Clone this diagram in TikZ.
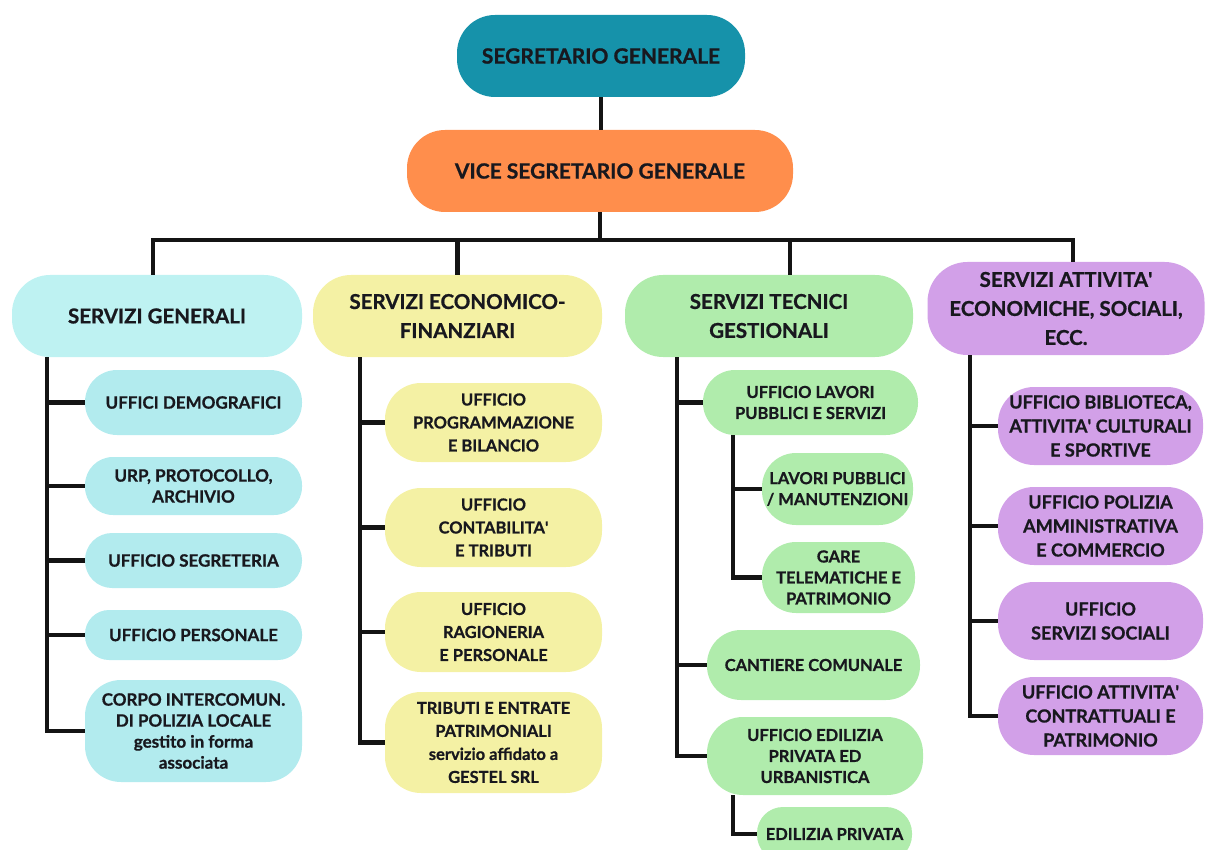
\documentclass[tikz,border=0pt]{standalone}
\usepackage{fontspec}
\setmainfont{Lato}[BoldFeatures={FakeBold=0.8}]
\usetikzlibrary{positioning}
\definecolor{segcolor}{RGB}{22,146,170}
\definecolor{vicecolor}{RGB}{255,142,76}
\definecolor{gencolor}{RGB}{190,242,242}
\definecolor{gensub}{RGB}{178,235,238}
\definecolor{ecocolor}{RGB}{244,241,164}
\definecolor{tecocolor}{RGB}{176,236,172}
\definecolor{attcolor}{RGB}{210,160,232}
\definecolor{txtcolor}{RGB}{24,24,30}
\newcommand{\ap}{\textquotesingle}
\tikzset{
    sz/.style n args={3}{minimum width=#1pt, minimum height=#2pt, rounded corners=#3pt},
    unitbox/.style={rectangle, align=center, inner sep=0pt, text=txtcolor},
    top box/.style={unitbox, font=\fontsize{21}{25}\selectfont\bfseries},
    head box/.style={unitbox, font=\fontsize{20.5}{29}\selectfont\bfseries},
    gen box/.style={unitbox, fill=gensub, font=\fontsize{17}{21}\selectfont\bfseries},
    eco box/.style={unitbox, fill=ecocolor, font=\fontsize{16.5}{23}\selectfont\bfseries},
    tec box/.style={unitbox, fill=tecocolor, font=\fontsize{16.5}{21}\selectfont\bfseries},
    att box/.style={unitbox, fill=attcolor, font=\fontsize{18}{24}\selectfont\bfseries},
    link/.style={line width=4.5pt, black!92}
}

\begin{document}
\begin{tikzpicture}[x=1pt, y=-1pt]
    \useasboundingbox (0,0) rectangle (1205,850);
    \clip (0,0) rectangle (1205,850);

    % Vertici
    \node[top box, fill=segcolor, sz={288}{82}{38}] (seg) at (601,56) {SEGRETARIO GENERALE};
    \node[top box, fill=vicecolor, sz={386}{82}{38}] (vice) at (600,171) {VICE SEGRETARIO GENERALE};

    % Servizi
    \node[head box, fill=gencolor, sz={290}{82}{38}] (gen) at (157,316) {SERVIZI GENERALI};
    \node[head box, fill=ecocolor, sz={289}{82}{38}] (eco) at (457.5,316) {SERVIZI ECONOMICO-\\FINANZIARI};
    \node[head box, fill=tecocolor, sz={288}{82}{38}] (tec) at (769,316) {SERVIZI TECNICI\\GESTIONALI};
    \node[head box, fill=attcolor, sz={277}{93}{40}] (att) at (1066,308.5) {SERVIZI ATTIVITA\ap\\ECONOMICHE, SOCIALI,\\ECC.};

    % Servizi generali
    \node[gen box, sz={217}{65}{32}] (g1) at (193.5,402.5) {UFFICI DEMOGRAFICI};
    \node[gen box, sz={217}{58}{28}] (g2) at (193.5,486) {URP, PROTOCOLLO,\\ARCHIVIO};
    \node[gen box, sz={217}{55}{27}] (g3) at (193.5,560.5) {UFFICIO SEGRETERIA};
    \node[gen box, sz={217}{50}{24}] (g4) at (193.5,635) {UFFICIO PERSONALE};
    \node[gen box, sz={217}{102}{36}] (g5) at (193.5,731) {CORPO INTERCOMUN.\\DI POLIZIA LOCALE\\gestito in forma\\associata};

    % Servizi economico-finanziari
    \node[eco box, sz={217}{79}{36}] (e1) at (493.5,422.5) {UFFICIO\\PROGRAMMAZIONE\\E BILANCIO};
    \node[eco box, sz={217}{79}{36}] (e2) at (493.5,527.5) {UFFICIO\\CONTABILITA\ap\\E TRIBUTI};
    \node[eco box, sz={217}{80}{36}] (e3) at (493.5,632) {UFFICIO\\RAGIONERIA\\E PERSONALE};
    \node[eco box, sz={217}{101}{36}] (e4) at (493.5,742.5) {TRIBUTI E ENTRATE\\PATRIMONIALI\\servizio affidato a\\GESTEL SRL};

    % Servizi tecnici gestionali
    \node[tec box, sz={215}{65}{32}] (t1) at (810.5,402.5) {UFFICIO LAVORI\\PUBBLICI E SERVIZI};
    \node[tec box, sz={151}{72}{34}] (t1a) at (837.5,489) {LAVORI PUBBLICI\\/ MANUTENZIONI};
    \node[tec box, sz={153}{71}{34}] (t1b) at (838.5,577.5) {GARE\\TELEMATICHE E\\PATRIMONIO};
    \node[tec box, sz={213}{70}{34}] (t2) at (813.5,665) {CANTIERE COMUNALE};
    \node[tec box, sz={216}{78}{36}] (t3) at (815,756) {UFFICIO EDILIZIA\\PRIVATA ED\\URBANISTICA};
    \node[tec box, sz={155}{54}{26}] (t3a) at (834.5,834) {EDILIZIA PRIVATA};

    % Servizi attivita'
    \node[att box, sz={205}{78}{36}] (a1) at (1100.5,426) {UFFICIO BIBLIOTECA,\\ATTIVITA\ap{} CULTURALI\\E SPORTIVE};
    \node[att box, sz={205}{78}{36}] (a2) at (1100.5,526) {UFFICIO POLIZIA\\AMMINISTRATIVA\\E COMMERCIO};
    \node[att box, sz={205}{78}{36}] (a3) at (1100.5,621) {UFFICIO\\SERVIZI SOCIALI};
    \node[att box, sz={205}{78}{36}] (a4) at (1100.5,716) {UFFICIO ATTIVITA\ap\\CONTRATTUALI E\\PATRIMONIO};

    % Collegamenti in alto
    \draw[link] (seg.south) -- (seg.south |- vice.north);
    \coordinate (bus) at (600,240);
    \coordinate (busL) at (153,240);
    \coordinate (busR) at (1073,240);
    \coordinate (tecdrop) at (790,240);
    \draw[link] (vice.south) -- (bus);
    \draw[link] (busL |- gen.north) |- (busR) -- (busR |- att.north);
    \draw[link] (bus -| eco.north) -- (eco.north);
    \draw[link] (tecdrop) -- (tecdrop |- tec.north);

    % Rami
    \coordinate (gentrunk) at (47,357);
    \draw[link] (gentrunk) |- (g5.west);
    \foreach \n in {g1,g2,g3,g4}
        \draw[link] (gentrunk |- \n.west) -- (\n.west);

    \coordinate (ecotrunk) at (360,357);
    \draw[link] (ecotrunk) |- (e4.west);
    \foreach \n in {e1,e2,e3}
        \draw[link] (ecotrunk |- \n.west) -- (\n.west);

    \coordinate (tectrunk) at (677,357);
    \draw[link] (tectrunk) |- (t3.west);
    \foreach \n in {t1,t2}
        \draw[link] (tectrunk |- \n.west) -- (\n.west);
    \coordinate (t1trunk) at (733,435);
    \draw[link] (t1trunk) |- (t1b.west);
    \draw[link] (t1trunk |- t1a.west) -- (t1a.west);
    \coordinate (t3trunk) at (733,795);
    \draw[link] (t3trunk) |- (t3a.west);

    \coordinate (atttrunk) at (970,355);
    \draw[link] (atttrunk) |- (a4.west);
    \foreach \n in {a1,a2,a3}
        \draw[link] (atttrunk |- \n.west) -- (\n.west);
\end{tikzpicture}
\end{document}
